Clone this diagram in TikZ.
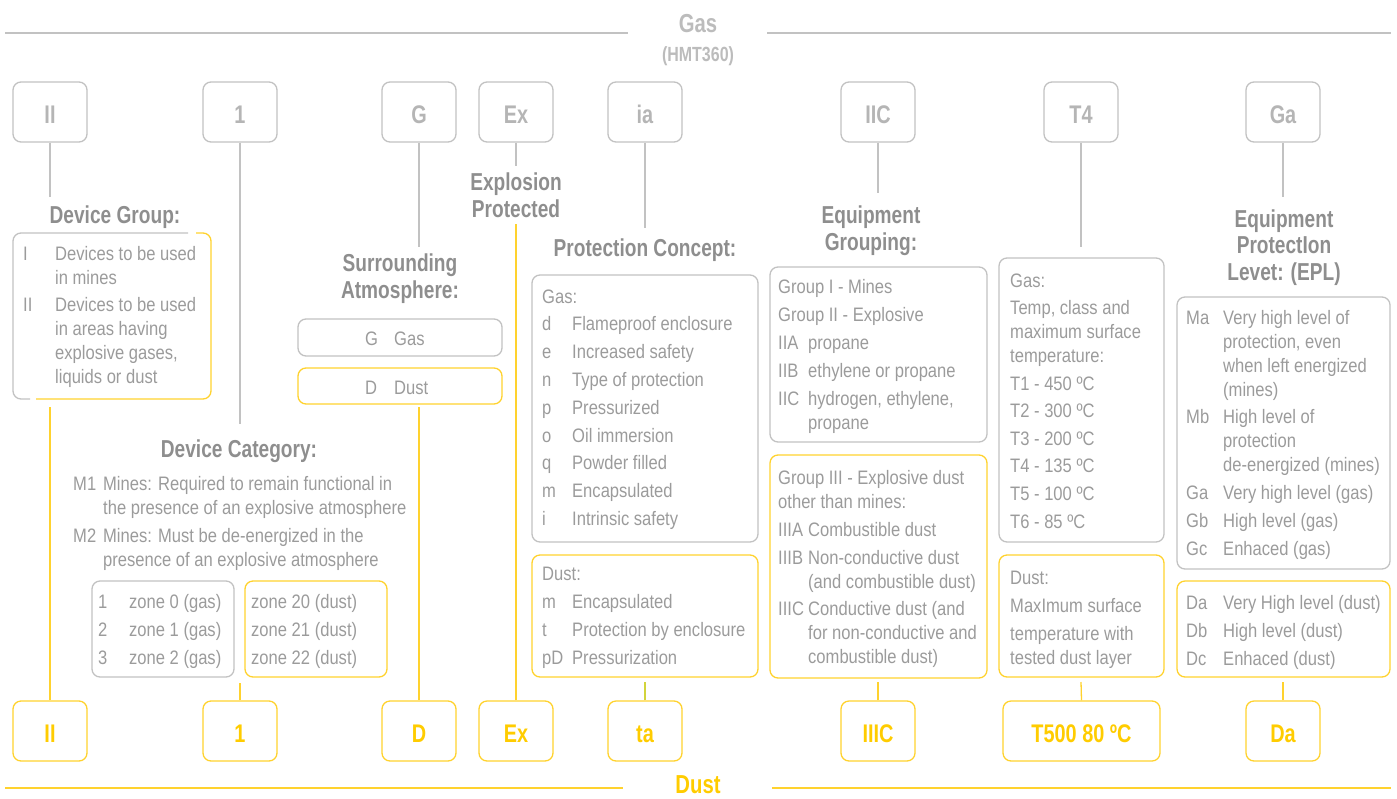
\documentclass[tikz,border=0pt]{standalone}
\usepackage{fontspec}
\setmainfont{Liberation Sans}[FakeStretch=0.85]
\newfontfamily\ttlfont{Liberation Sans}[FakeStretch=0.78]
\definecolor{txt}{HTML}{9B9B9B}
\definecolor{ttl}{HTML}{8E8E8E}
\definecolor{lbl}{HTML}{B5B5B5}
\definecolor{hdr}{HTML}{BCBCBC}
\definecolor{bdr}{HTML}{C2C2C2}
\definecolor{yel}{HTML}{FFCC00}
\definecolor{ybdr}{HTML}{FFD22E}
\definecolor{ygrn}{HTML}{D2D43C}
\tikzset{
  every node/.style={inner sep=0pt},
  body/.style={font=\fontsize{19.5}{24}\selectfont, text=txt, anchor=base west},
  ttl/.style={font=\ttlfont\bfseries\fontsize{24.5}{27}\selectfont, text=ttl, anchor=base},
  topbox/.style={draw=bdr, line width=1.3pt, rounded corners=8pt, minimum width=74pt, minimum height=60pt,
    font=\ttlfont\bfseries\fontsize{25.5}{27}\selectfont, text=lbl, text height=22pt, text depth=0pt},
  botbox/.style={topbox, draw=ybdr, text=yel},
  gbox/.style={draw=bdr, line width=1.3pt, rounded corners=8pt},
  ybox/.style={draw=ybdr, line width=1.3pt, rounded corners=8pt},
  gline/.style={draw=bdr, line width=1.3pt},
  yline/.style={draw=ybdr, line width=1.3pt},
}
\begin{document}
\begin{tikzpicture}[x=1pt,y=-1pt]
\useasboundingbox (0,0) rectangle (1397,798);

% headers
\node[font=\ttlfont\bfseries\fontsize{26}{28}\selectfont, text=hdr, anchor=base] (gashdr) at (698,32) {Gas};
\node[font=\ttlfont\bfseries\fontsize{20.5}{22}\selectfont, text=hdr, anchor=base] (hmt) at (698,61) {(HMT360)};
\coordinate (gl1) at (5,33); \coordinate (gl2) at (628,33);
\coordinate (gr1) at (767,33); \coordinate (gr2) at (1391,33);
\draw[gline] (gl1) -- (gl2);
\draw[gline] (gr1) -- (gr2);
\node[font=\ttlfont\bfseries\fontsize{26}{28}\selectfont, text=yel, anchor=base] (dusthdr) at (698,793) {Dust};
\coordinate (dl1) at (5,788); \coordinate (dl2) at (623,788);
\coordinate (dr1) at (772,788); \coordinate (dr2) at (1391,788);
\draw[yline] (dl1) -- (dl2);
\draw[yline] (dr1) -- (dr2);

% top boxes
\node[topbox] (tII) at (50,112) {II};
\node[topbox] (t1) at (240,112) {1};
\node[topbox] (tG) at (419,112) {G};
\node[topbox] (tEx) at (516,112) {Ex};
\node[topbox] (tia) at (645,112) {ia};
\node[topbox] (tIIC) at (878,112) {IIC};
\node[topbox] (tT4) at (1081,112) {T4};
\node[topbox] (tGa) at (1283,112) {Ga};

% bottom boxes
\node[botbox] (bII) at (50,731) {II};
\node[botbox] (b1) at (240,731) {1};
\node[botbox] (bD) at (419,731) {D};
\node[botbox] (bEx) at (516,731) {Ex};
\node[botbox] (bta) at (645,731) {ta};
\node[botbox] (bIIIC) at (878,731) {IIIC};
\node[botbox, minimum width=157pt] (bT) at (1081.5,731) {T500 80 ºC};
\node[botbox] (bDa) at (1283,731) {Da};

% ---------- Device group ----------
\coordinate (cII) at (50,197);
\draw[gline] (tII.south) -- (cII);
\node[ttl] (ttlDG) at (115,223) {Device Group:};
\draw[gbox] (188,233) -- (13,233) -- (13,399) -- (30,399);
\draw[ybox] (196,233) -- (211,233) -- (211,399) -- (36,399);
\node[body] (dgtxt) at (23,260) {\begin{tabular}[t]{@{}p{32pt}@{}l@{}}
I & Devices to be used\\
  & in mines\\[3pt]
II & Devices to be used\\
  & in areas having\\
  & explosive gases,\\
  & liquids or dust
\end{tabular}};
\coordinate (dII) at (50,407);
\draw[yline] (bII.north) -- (dII);

% ---------- Device category ----------
\coordinate (c1) at (240,424);
\draw[gline] (t1.south) -- (c1);
\node[ttl] (ttlDC) at (239,457) {Device Category:};
\node[body] (dctxt) at (73,490) {\begin{tabular}[t]{@{}p{30pt}@{}l@{}}
M1 & Mines: Required to remain functional in\\
   & the presence of an explosive atmosphere\\[4pt]
M2 & Mines: Must be de-energized in the\\
   & presence of an explosive atmosphere
\end{tabular}};
\node[gbox, minimum width=142pt, minimum height=96pt] (zoneG) at (163,629) {};
\node[ybox, minimum width=142pt, minimum height=96pt] (zoneD) at (316,629) {};
\node[body] (zgtxt) at (98,608) {\begin{tabular}[t]{@{}p{31pt}@{}l@{}}
1 & zone 0 (gas)\\[4pt]
2 & zone 1 (gas)\\[4pt]
3 & zone 2 (gas)
\end{tabular}};
\node[body] (zdtxt) at (251,608) {\begin{tabular}[t]{@{}l@{}}
zone 20 (dust)\\[4pt]
zone 21 (dust)\\[4pt]
zone 22 (dust)
\end{tabular}};
\coordinate (d1) at (240,683);
\draw[yline] (b1.north) -- (d1);

% ---------- Surrounding atmosphere ----------
\coordinate (cG) at (419,247);
\draw[gline] (tG.south) -- (cG);
\node[ttl] (ttlSA1) at (400,271) {Surrounding};
\node[ttl] (ttlSA2) at (400,298) {Atmosphere:};
\node[gbox, minimum width=204pt, minimum height=37pt] (saG) at (400,337.5) {};
\node[ybox, minimum width=204pt, minimum height=36pt] (saD) at (400,386) {};
\node[body] (sagtxt) at (365,345) {\begin{tabular}[t]{@{}p{29pt}@{}l@{}}G & Gas\end{tabular}};
\node[body] (sadtxt) at (365,394) {\begin{tabular}[t]{@{}p{29pt}@{}l@{}}D & Dust\end{tabular}};
\coordinate (dD) at (419,407);
\draw[yline] (bD.north) -- (dD);

% ---------- Explosion protected ----------
\coordinate (cEx) at (516,166);
\draw[gline] (tEx.south) -- (cEx);
\node[ttl] (ttlEP1) at (516,190) {Explosion};
\node[ttl] (ttlEP2) at (516,217) {Protected};
\coordinate (dEx) at (516,224);
\draw[yline] (bEx.north) -- (dEx);

% ---------- Protection concept ----------
\coordinate (cia) at (645,228);
\draw[gline] (tia.south) -- (cia);
\node[ttl] (ttlPC) at (645,256) {Protection Concept:};
\node[gbox, minimum width=226pt, minimum height=267pt] (pcG) at (645,408.5) {};
\node[ybox, minimum width=226pt, minimum height=122pt] (pcD) at (645,616) {};
\node[body] (pcgtxt) at (542,303) {\begin{tabular}[t]{@{}p{30pt}@{}l@{}}
\multicolumn{2}{@{}l@{}}{Gas:}\\[3.8pt]
d & Flameproof enclosure\\[3.8pt]
e & Increased safety\\[3.8pt]
n & Type of protection\\[3.8pt]
p & Pressurized\\[3.8pt]
o & Oil immersion\\[3.8pt]
q & Powder filled\\[3.8pt]
m & Encapsulated\\[3.8pt]
i & Intrinsic safety
\end{tabular}};
\node[body] (pcdtxt) at (542,580) {\begin{tabular}[t]{@{}p{30pt}@{}l@{}}
\multicolumn{2}{@{}l@{}}{Dust:}\\[4pt]
m & Encapsulated\\[4pt]
t & Protection by enclosure\\[4pt]
pD & Pressurization
\end{tabular}};
\coordinate (dta) at (645,682);
\draw[draw=ygrn, line width=1.3pt] (bta.north) -- (dta);

% ---------- Equipment grouping ----------
\coordinate (cIIC) at (878,193);
\draw[gline] (tIIC.south) -- (cIIC);
\node[ttl] (ttlEG1) at (871,223) {Equipment};
\node[ttl] (ttlEG2) at (871,250) {Grouping:};
\node[gbox, minimum width=217pt, minimum height=175pt] (egG) at (878.5,354.5) {};
\node[ybox, minimum width=217pt, minimum height=223pt] (egD) at (878.5,566.5) {};
\node[body] (eggtxt) at (778,293) {\begin{tabular}[t]{@{}p{30pt}@{}l@{}}
\multicolumn{2}{@{}l@{}}{Group I - Mines}\\[4pt]
\multicolumn{2}{@{}l@{}}{Group II - Explosive}\\[4pt]
IIA & propane\\[4pt]
IIB & ethylene or propane\\[4pt]
IIC & hydrogen, ethylene,\\
    & propane
\end{tabular}};
\node[body] (egdtxt) at (778,484) {\begin{tabular}[t]{@{}p{30pt}@{}l@{}}
\multicolumn{2}{@{}l@{}}{Group III - Explosive dust}\\
\multicolumn{2}{@{}l@{}}{other than mines:}\\[4pt]
IIIA & Combustible dust\\[4pt]
IIIB & Non-conductive dust\\
     & (and combustible dust)\\[3pt]
IIIC & Conductive dust (and\\
     & for non-conductive and\\
     & combustible dust)
\end{tabular}};
\coordinate (dIIIC) at (878,682);
\draw[yline] (bIIIC.north) -- (dIIIC);

% ---------- Temperature class ----------
\coordinate (cT4) at (1081,247);
\draw[gline] (tT4.south) -- (cT4);
\node[gbox, minimum width=165pt, minimum height=284pt] (tcG) at (1081.5,400) {};
\node[ybox, minimum width=165pt, minimum height=122pt] (tcD) at (1081.5,616) {};
\node[body] (tcgtxt) at (1010,287) {\begin{tabular}[t]{@{}l@{}}
Gas:\\[3pt]
Temp, class and\\
maximum surface\\
temperature:\\[4pt]
T1 - 450 ºC\\[3.6pt]
T2 - 300 ºC\\[3.6pt]
T3 - 200 ºC\\[3.6pt]
T4 - 135 ºC\\[3.6pt]
T5 - 100 ºC\\[3.6pt]
T6 - 85 ºC
\end{tabular}};
\node[body] (tcdtxt) at (1010,584) {\begin{tabular}[t]{@{}l@{}}
Dust:\\[4pt]
MaxImum surface\\[4pt]
temperature with\\
tested dust layer
\end{tabular}};
\coordinate (dT) at (1081,682);
\draw[yline] (bT.north) -- (dT);

% ---------- EPL ----------
\coordinate (cGa) at (1283,197);
\draw[gline] (tGa.south) -- (cGa);
\node[ttl] (ttlEPL1) at (1284,227) {Equipment};
\node[ttl] (ttlEPL2) at (1284,253) {ProtectIon};
\node[ttl] (ttlEPL3) at (1284,280) {Levet: (EPL)};
\node[gbox, minimum width=213pt, minimum height=272pt] (eplG) at (1283.5,433) {};
\node[ybox, minimum width=213pt, minimum height=96pt] (eplD) at (1283.5,629) {};
\node[body] (eplgtxt) at (1186,324) {\begin{tabular}[t]{@{}p{37pt}@{}l@{}}
Ma & Very high level of\\
   & protection, even\\
   & when left energized\\
   & (mines)\\[3pt]
Mb & High level of\\
   & protection\\
   & de-energized (mines)\\[4pt]
Ga & Very high level (gas)\\[4pt]
Gb & High level (gas)\\[4pt]
Gc & Enhaced (gas)
\end{tabular}};
\node[body] (epldtxt) at (1186,609) {\begin{tabular}[t]{@{}p{37pt}@{}l@{}}
Da & Very High level (dust)\\[4pt]
Db & High level (dust)\\[4pt]
Dc & Enhaced (dust)
\end{tabular}};
\coordinate (dDa) at (1283,682);
\draw[yline] (bDa.north) -- (dDa);
\end{tikzpicture}
\end{document}
